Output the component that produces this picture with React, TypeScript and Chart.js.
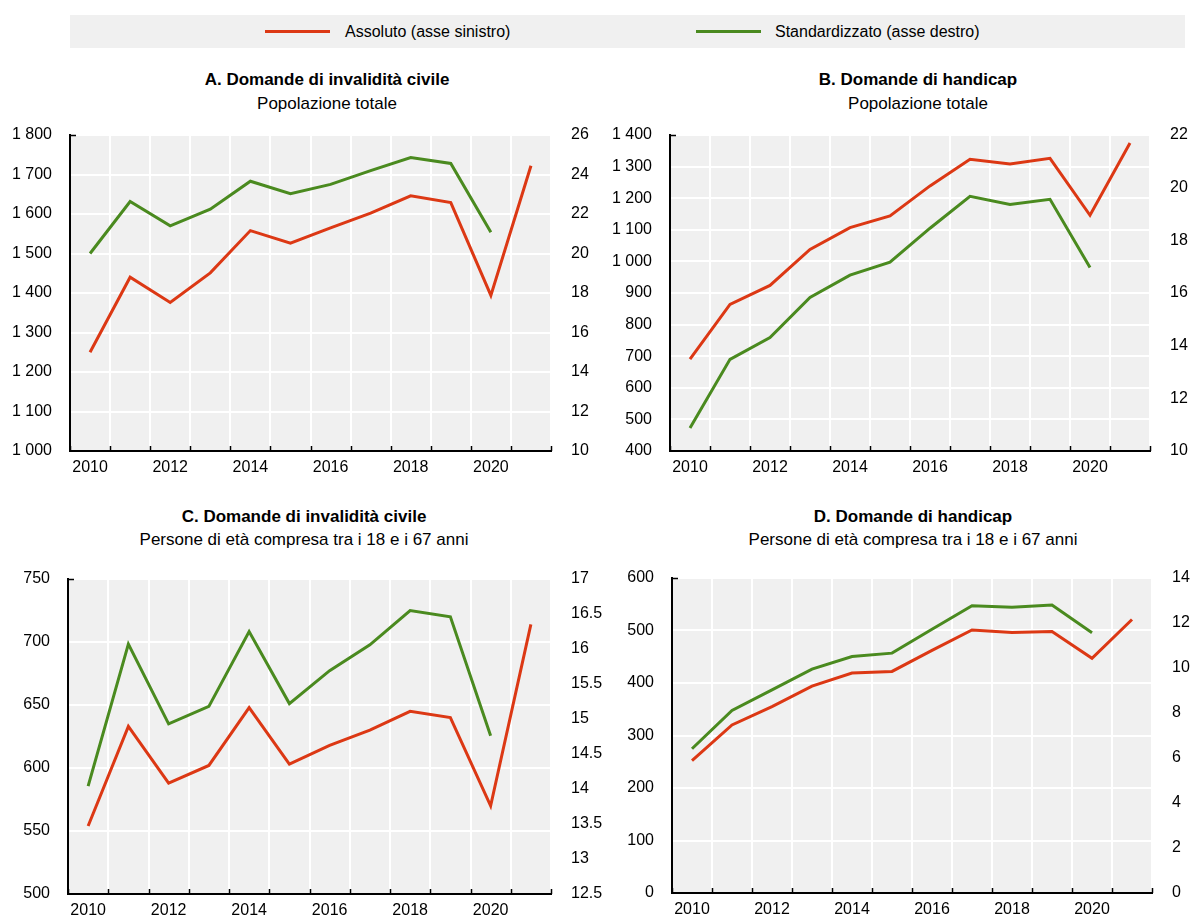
import React, { useEffect, useRef } from 'react';
import { Chart, registerables } from 'chart.js';

Chart.register(...registerables);

const FONT = "'Liberation Sans', Arial, Helvetica, sans-serif";
Chart.defaults.font.family = FONT;

const RED = '#dc3814';
const GREEN = '#4a8a1f';
const PLOT_BG = '#f0f0f0';

// Categories
const years = ['2010', '2011', '2012', '2013', '2014', '2015', '2016', '2017', '2018', '2019', '2020', '2021'];

// Legend labels
const seriesAbsoluteLabel = 'Assoluto (asse sinistro)';
const seriesStandardLabel = 'Standardizzato (asse destro)';

// Panel A
const titleA = 'A. Domande di invalidità civile';
const subtitleA = 'Popolazione totale';
const absoluteA = [1250, 1440, 1376, 1451, 1558, 1526, 1565, 1602, 1646, 1629, 1394, 1722];
const standardA = [20.0, 22.63, 21.4, 22.24, 23.66, 23.03, 23.5, 24.2, 24.86, 24.56, 21.08];
const leftAxisA = [1000, 1800, 100];
const rightAxisA = [10, 26, 2];

// Panel B
const titleB = 'B. Domande di handicap';
const subtitleB = 'Popolazione totale';
const absoluteB = [691, 864, 924, 1038, 1107, 1144, 1239, 1323, 1308, 1326, 1146, 1375];
const standardB = [10.87, 13.48, 14.31, 15.83, 16.68, 17.17, 18.46, 19.67, 19.36, 19.56, 16.97];
const leftAxisB = [400, 1400, 100];
const rightAxisB = [10, 22, 2];

// Panel C
const titleC = 'C. Domande di invalidità civile';
const subtitleC = 'Persone di età compresa tra i 18 e i 67 anni';
const absoluteC = [554, 633, 588, 602, 648, 603, 618, 630, 645, 640, 570, 714];
const standardC = [14.04, 16.07, 14.93, 15.18, 16.25, 15.22, 15.69, 16.06, 16.55, 16.46, 14.76];
const leftAxisC = [500, 750, 50];
const rightAxisC = [12.5, 17, 0.5];

// Panel D
const titleD = 'D. Domande di handicap';
const subtitleD = 'Persone di età compresa tra i 18 e i 67 anni';
const absoluteD = [252, 320, 355, 394, 419, 422, 462, 501, 496, 498, 447, 521];
const standardD = [6.41, 8.11, 9.03, 9.95, 10.51, 10.66, 11.72, 12.77, 12.7, 12.8, 11.57];
const leftAxisD = [0, 600, 100];
const rightAxisD = [0, 14, 2];

type Layout = {
  canvas: { left: number; top: number; width: number; height: number };
  plot: { l: number; r: number; t: number; b: number };
  titleX: number;
  titleY: number;
  subY: number;
};

const panels = [
  {
    title: titleA, subtitle: subtitleA, abs: absoluteA, std: standardA, left: leftAxisA, right: rightAxisA,
    layout: { canvas: { left: 0, top: 120, width: 605, height: 360 }, plot: { l: 70, r: 551, t: 135, b: 451 }, titleX: 327, titleY: 80, subY: 104 } as Layout,
  },
  {
    title: titleB, subtitle: subtitleB, abs: absoluteB, std: standardB, left: leftAxisB, right: rightAxisB,
    layout: { canvas: { left: 605, top: 120, width: 585, height: 360 }, plot: { l: 670, r: 1150, t: 135, b: 451 }, titleX: 918, titleY: 80, subY: 104 } as Layout,
  },
  {
    title: titleC, subtitle: subtitleC, abs: absoluteC, std: standardC, left: leftAxisC, right: rightAxisC,
    layout: { canvas: { left: 0, top: 560, width: 605, height: 359 }, plot: { l: 68, r: 551, t: 579, b: 894 }, titleX: 304, titleY: 517, subY: 540 } as Layout,
  },
  {
    title: titleD, subtitle: subtitleD, abs: absoluteD, std: standardD, left: leftAxisD, right: rightAxisD,
    layout: { canvas: { left: 605, top: 560, width: 585, height: 359 }, plot: { l: 672, r: 1152, t: 578, b: 893 }, titleX: 913, titleY: 517, subY: 540 } as Layout,
  },
];

function fmtThousands(v: number) {
  const r = Math.round(v * 10) / 10;
  const s = String(r);
  return s.replace(/\B(?=(\d{3})+(?!\d))/g, ' ');
}

function clearPadding(s: any) {
  s.paddingTop = 0;
  s.paddingBottom = 0;
  s.paddingLeft = 0;
  s.paddingRight = 0;
}

const decoPlugin = {
  id: 'panelDeco',
  beforeDraw(chart: any) {
    const { ctx, chartArea } = chart;
    ctx.save();
    ctx.fillStyle = PLOT_BG;
    ctx.fillRect(chartArea.left, chartArea.top, chartArea.right - chartArea.left, chartArea.bottom - chartArea.top);
    ctx.restore();
  },
  afterDraw(chart: any) {
    const { ctx } = chart;
    const x = chart.scales.x;
    const y = chart.scales.y;
    ctx.save();
    ctx.strokeStyle = '#000';
    ctx.lineWidth = 1.5;
    ctx.beginPath();
    for (let i = 0; i <= years.length; i++) {
      const px = Math.round(x.getPixelForValue(i - 0.5)) + 0.5;
      ctx.moveTo(px, y.bottom);
      ctx.lineTo(px, y.bottom - 5);
    }
    ctx.moveTo(y.right, y.top + 0.5);
    ctx.lineTo(y.right + 6, y.top + 0.5);
    ctx.stroke();
    ctx.restore();
  },
};

function Panel({ p }: { p: (typeof panels)[number] }) {
  const ref = useRef<HTMLCanvasElement | null>(null);
  const L = p.layout;
  useEffect(() => {
    if (!ref.current) return;
    const padTop = L.plot.t - L.canvas.top;
    const leftW = L.plot.l - L.canvas.left;
    const rightW = L.canvas.left + L.canvas.width - L.plot.r;
    const xH = L.canvas.top + L.canvas.height - L.plot.b;
    const tickFont = { family: FONT, size: 16 };
    const chart = new Chart(ref.current, {
      type: 'line',
      data: {
        labels: years,
        datasets: [
          {
            label: seriesAbsoluteLabel,
            data: p.abs,
            borderColor: RED,
            backgroundColor: RED,
            borderWidth: 3,
            pointRadius: 0,
            tension: 0,
            yAxisID: 'y',
          },
          {
            label: seriesStandardLabel,
            data: p.std,
            borderColor: GREEN,
            backgroundColor: GREEN,
            borderWidth: 3,
            pointRadius: 0,
            tension: 0,
            yAxisID: 'y1',
          },
        ],
      },
      options: {
        responsive: false,
        animation: false,
        devicePixelRatio: 1,
        layout: { padding: { top: padTop, left: 0, right: 0, bottom: 0 } },
        plugins: { legend: { display: false }, tooltip: { enabled: false }, title: { display: false } },
        scales: {
          x: {
            type: 'category',
            offset: true,
            grid: { offset: true, color: '#ffffff', lineWidth: 2, drawTicks: false },
            border: { display: true, color: '#000', width: 2, z: 1 },
            ticks: {
              autoSkip: false,
              maxRotation: 0,
              minRotation: 0,
              padding: 7,
              color: '#000',
              font: tickFont,
              callback: (_v: any, i: number) => (i % 2 === 0 ? years[i] : ''),
            },
            afterFit: (s: any) => {
              s.height = xH;
              clearPadding(s);
            },
          },
          y: {
            position: 'left',
            min: p.left[0],
            max: p.left[1],
            ticks: { stepSize: p.left[2], padding: 18, color: '#000', font: tickFont, callback: (v: any) => fmtThousands(Number(v)) },
            grid: { color: '#ffffff', lineWidth: 2, drawTicks: false },
            border: { display: true, color: '#000', width: 2, z: 1 },
            afterFit: (s: any) => {
              s.width = leftW;
              clearPadding(s);
            },
          },
          y1: {
            position: 'right',
            min: p.right[0],
            max: p.right[1],
            ticks: { stepSize: p.right[2], padding: 20, color: '#000', font: tickFont, callback: (v: any) => fmtThousands(Number(v)) },
            grid: { display: false, drawTicks: false },
            border: { display: false },
            afterFit: (s: any) => {
              s.width = rightW;
              clearPadding(s);
            },
          },
        },
      } as any,
      plugins: [decoPlugin],
    });
    return () => chart.destroy();
  }, []);

  const textBase: React.CSSProperties = {
    position: 'absolute',
    transform: 'translateX(-50%)',
    whiteSpace: 'nowrap',
    fontFamily: FONT,
    fontSize: 17,
    lineHeight: '20px',
    height: 20,
    color: '#000',
  };

  return (
    <>
      <div style={{ ...textBase, left: L.titleX, top: L.titleY - 10, fontWeight: 'bold' }}>{p.title}</div>
      <div style={{ ...textBase, left: L.titleX, top: L.subY - 10 }}>{p.subtitle}</div>
      <canvas
        ref={ref}
        width={L.canvas.width}
        height={L.canvas.height}
        style={{ position: 'absolute', left: L.canvas.left, top: L.canvas.top, width: L.canvas.width, height: L.canvas.height }}
      />
    </>
  );
}

function Legend() {
  const item = (color: string, lineLeft: number, textLeft: number, text: string) => (
    <>
      <div style={{ position: 'absolute', left: lineLeft, top: 30, width: 65, height: 3, background: color }} />
      <div style={{ position: 'absolute', left: textLeft, top: 22, height: 20, lineHeight: '20px', fontSize: 16, fontFamily: FONT, color: '#000', whiteSpace: 'nowrap' }}>{text}</div>
    </>
  );
  return (
    <>
      <div style={{ position: 'absolute', left: 70, top: 15, width: 1115, height: 33, background: PLOT_BG }} />
      {item(RED, 265, 345, seriesAbsoluteLabel)}
      {item(GREEN, 696, 775, seriesStandardLabel)}
    </>
  );
}

export default function App() {
  return (
    <div style={{ position: 'absolute', left: 0, top: 0, width: 1190, height: 919, background: '#fff', overflow: 'hidden' }}>
      <Legend />
      {panels.map((p, i) => (
        <Panel key={i} p={p} />
      ))}
    </div>
  );
}
